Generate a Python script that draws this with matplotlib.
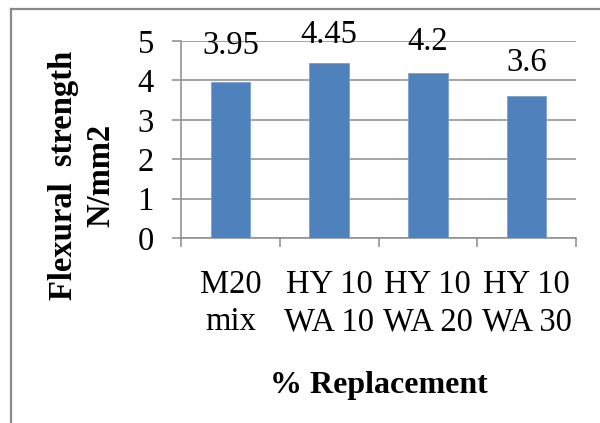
import matplotlib
matplotlib.use("Agg")
import matplotlib.pyplot as plt
from matplotlib.lines import Line2D
from matplotlib.ticker import FixedLocator, NullFormatter, FixedFormatter

plt.rcParams["font.family"] = ["Liberation Serif", "DejaVu Serif"]

# Data
categories = ["M20\nmix", "HY 10\nWA 10", "HY 10\nWA 20", "HY 10\nWA 30"]
strength = [3.95, 4.45, 4.2, 3.6]
y_ticks = [0, 1, 2, 3, 4, 5]

# Lift of each value label above its bar top (pixels)
label_lift_px = [28, 20, 23, 25]

W, H, DPI = 600, 423, 100
fig = plt.figure(figsize=(W / DPI, H / DPI), dpi=DPI)
fig.patch.set_facecolor("white")

# Chart frame (left and top edges)
frame_col = "#8a8a8a"
fig.add_artist(Line2D([11 / W, 11 / W], [0, 1 - 9 / H], transform=fig.transFigure,
                      color=frame_col, lw=1.6))
fig.add_artist(Line2D([11 / W, 1], [1 - 9 / H, 1 - 9 / H], transform=fig.transFigure,
                      color=frame_col, lw=1.6))

ax = fig.add_axes([181 / W, 1 - 238 / H, (576 - 181) / W, (238 - 41) / H])
ax.set_facecolor("none")

grid_col = "#8c8c8c"
x = list(range(len(categories)))
ax.bar(x, strength, width=0.4, color="#4f81bd", edgecolor="#7aa0d0",
       linewidth=0.6, zorder=3)

ax.set_xlim(-0.5, len(categories) - 0.5)
ax.set_ylim(0, 5)
ax.yaxis.set_major_locator(FixedLocator(y_ticks))
ax.set_yticklabels([str(t) for t in y_ticks])
ax.yaxis.grid(True, color=grid_col, lw=1.1, zorder=0)
ax.set_axisbelow(True)

fs = 23.5

# Category boundary ticks, labels at the centres
ax.xaxis.set_major_locator(FixedLocator([i - 0.5 for i in range(len(categories) + 1)]))
ax.xaxis.set_major_formatter(NullFormatter())
ax.xaxis.set_minor_locator(FixedLocator(x))
ax.xaxis.set_minor_formatter(FixedFormatter(categories))
ax.tick_params(axis="x", which="major", length=6.5, width=1.1, color=grid_col, direction="out")
ax.tick_params(axis="x", which="minor", length=0, pad=23, labelsize=fs)
ax.tick_params(axis="y", which="major", length=6.5, width=1.1, color=grid_col,
               direction="out", pad=13, labelsize=fs)
for lbl in ax.xaxis.get_minorticklabels():
    lbl.set_linespacing(1.27)

for side in ("top", "right"):
    ax.spines[side].set_visible(False)
for side in ("left", "bottom"):
    ax.spines[side].set_color(grid_col)
    ax.spines[side].set_linewidth(1.1)

# Value labels
for xi, v, lift in zip(x, strength, label_lift_px):
    ax.annotate(f"{v:g}", xy=(xi, v), xytext=(0, lift * 72 / DPI),
                textcoords="offset points", ha="center", va="baseline",
                fontsize=fs, color="black", annotation_clip=False)

ax.set_xlabel("% Replacement", fontsize=23, fontweight="bold", labelpad=24)
fig.text(82 / W, 1 - 175 / H, "Flexural  strength\nN/mm2", rotation=90,
         ha="center", va="center", fontsize=23.5, fontweight="bold",
         linespacing=1.27, multialignment="center")

fig.savefig("out.png", dpi=DPI)
